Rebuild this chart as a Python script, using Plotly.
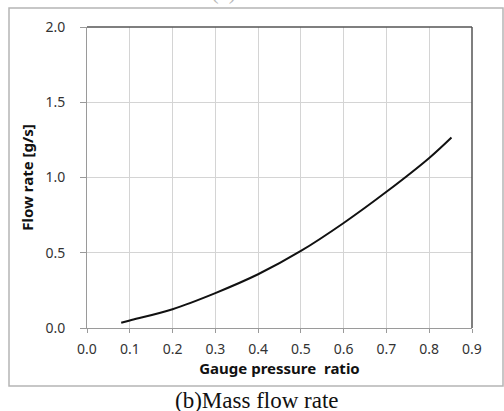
import plotly.graph_objects as go

# Data
pressure_ratio = [0.080, 0.10, 0.20, 0.30, 0.40, 0.50, 0.60, 0.70, 0.80, 0.852]
flow_rate = [0.035, 0.050, 0.125, 0.232, 0.357, 0.512, 0.698, 0.905, 1.130, 1.266]

x_ticks = [0.0, 0.1, 0.2, 0.3, 0.4, 0.5, 0.6, 0.7, 0.8, 0.9]
y_ticks = [0.0, 0.5, 1.0, 1.5, 2.0]

fig = go.Figure()
fig.add_trace(go.Scatter(
    x=pressure_ratio, y=flow_rate, mode="lines",
    line=dict(color="#111111", width=2, shape="spline", smoothing=1.0),
    showlegend=False, hoverinfo="skip",
))

tick_font = dict(family="Noto Sans, Open Sans, sans-serif", size=14, color="#333333")
title_font = dict(family="Noto Sans, Open Sans, sans-serif", size=15, color="#111111")

fig.update_layout(
    width=504, height=411,
    margin=dict(l=87, r=32, t=27, b=83),
    paper_bgcolor="white", plot_bgcolor="white",
    xaxis=dict(
        range=[0, 0.9], tickvals=x_ticks, ticktext=[f"{v:.1f}" for v in x_ticks],
        showgrid=True, gridcolor="#d4d4d4", gridwidth=1,
        showline=True, linecolor="#9a9a9a", linewidth=1,
        ticks="outside", ticklen=4, tickcolor="#9a9a9a",
        tickfont=tick_font, ticklabelstandoff=4,
        zeroline=False, fixedrange=True,
        title=dict(text="<b>Gauge pressure  ratio</b>", font=title_font, standoff=6),
    ),
    yaxis=dict(
        range=[0, 2.0], tickvals=y_ticks, ticktext=[f"{v:.1f}" for v in y_ticks],
        showgrid=True, gridcolor="#d4d4d4", gridwidth=1,
        showline=True, linecolor="#9a9a9a", linewidth=1,
        ticks="outside", ticklen=6, tickcolor="#9a9a9a",
        tickfont=tick_font, ticklabelstandoff=12,
        zeroline=False, fixedrange=True,
        title=dict(text="<b>Flow rate [g/s]</b>", font=title_font, standoff=8),
    ),
    shapes=[
        # outer frame
        dict(type="rect", xref="paper", yref="paper", x0=-78/385, x1=(503-87)/385,
             y0=-(386-328)/301, y1=(328-8)/301,
             line=dict(color="#b5b5b5", width=1.5), layer="below"),
        # dark top and right border of plot area
        dict(type="line", xref="paper", yref="paper", x0=0, x1=1, y0=1, y1=1,
             line=dict(color="#555555", width=1.5)),
        dict(type="line", xref="paper", yref="paper", x0=1, x1=1, y0=0, y1=1,
             line=dict(color="#555555", width=1.5)),
    ],
    annotations=[
        dict(text="(b)Mass flow rate", xref="paper", yref="paper",
             x=(257-87)/385, y=-(400-328)/301, xanchor="center", yanchor="middle",
             showarrow=False,
             font=dict(family="Liberation Serif, Times New Roman, serif", size=23, color="#111111")),
        dict(text="(a)Pressure", xref="paper", yref="paper",
             x=(262-87)/385, y=(328-6)/301, xanchor="center", yanchor="bottom",
             showarrow=False,
             font=dict(family="Liberation Serif, Times New Roman, serif", size=23, color="#bbbbbb")),
    ],
)

fig.write_html("out.html")
